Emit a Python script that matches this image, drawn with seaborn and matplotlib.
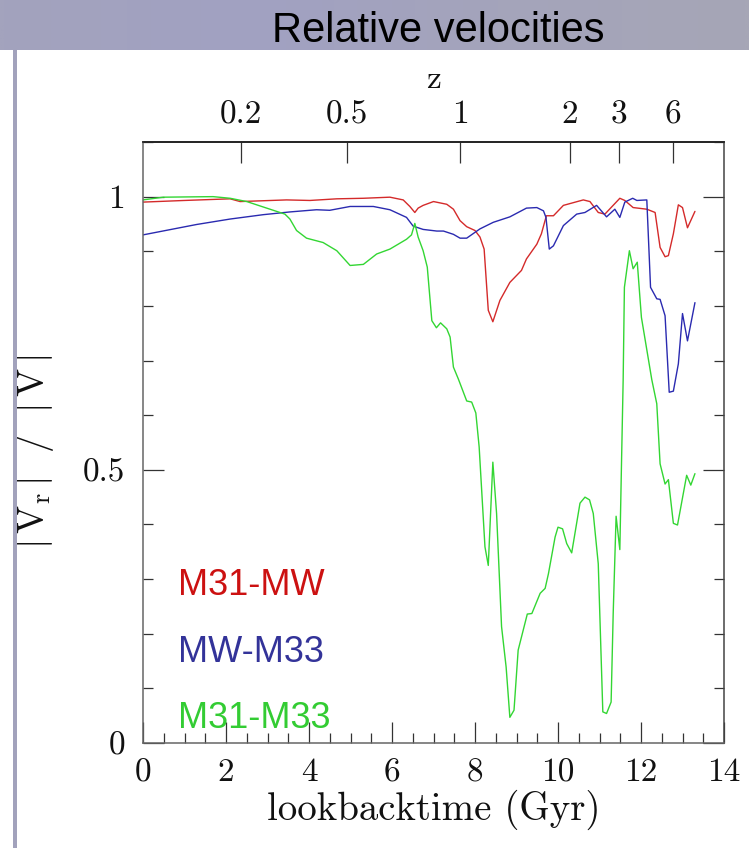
import numpy as np
import pandas as pd
import matplotlib
matplotlib.use("Agg")
import matplotlib.pyplot as plt
from matplotlib.ticker import MultipleLocator, NullLocator
from matplotlib.patches import Rectangle
import seaborn as sns

# ---------------- data ----------------
t_m31_mw = [0.0, 1.0, 2.1, 2.34, 3.46, 4.02, 4.67, 5.31, 5.95, 6.27, 6.43, 6.55, 6.63, 6.75,
            7.0, 7.32, 7.48, 7.64, 7.80, 8.0, 8.12, 8.22, 8.32, 8.43, 8.6, 8.84, 9.12, 9.24,
            9.49, 9.6, 9.72, 9.89, 10.13, 10.61, 10.77, 10.97, 11.13, 11.49, 11.61, 11.81,
            12.14, 12.34, 12.46, 12.58, 12.66, 12.78, 12.9, 13.0, 13.12, 13.3]
v_m31_mw = [0.990, 0.993, 0.996, 0.991, 0.994, 0.993, 0.996, 0.997, 0.999, 0.994, 0.982, 0.971,
            0.979, 0.984, 0.991, 0.986, 0.977, 0.956, 0.945, 0.938, 0.926, 0.904, 0.792, 0.771,
            0.810, 0.843, 0.865, 0.886, 0.913, 0.932, 0.965, 0.965, 0.984, 0.994, 0.991, 0.971,
            0.968, 0.997, 0.993, 0.980, 0.977, 0.971, 0.907, 0.890, 0.892, 0.932, 0.985, 0.980,
            0.943, 0.973]

t_mw_m33 = [0.0, 1.29, 2.1, 2.9, 3.54, 4.18, 4.5, 4.99, 5.55, 5.95, 6.35, 6.51, 6.75, 7.08,
            7.24, 7.48, 7.64, 7.80, 8.12, 8.44, 8.84, 9.24, 9.49, 9.65, 9.71, 9.79, 9.89,
            10.13, 10.45, 10.65, 10.93, 11.17, 11.37, 11.49, 11.61, 11.80, 11.90, 12.14,
            12.23, 12.38, 12.46, 12.58, 12.66, 12.68, 12.78, 12.9, 13.0, 13.12, 13.3]
v_mw_m33 = [0.930, 0.949, 0.959, 0.967, 0.972, 0.976, 0.975, 0.982, 0.982, 0.976, 0.962, 0.946,
            0.940, 0.937, 0.937, 0.931, 0.924, 0.924, 0.941, 0.953, 0.963, 0.979, 0.980, 0.974,
            0.962, 0.904, 0.910, 0.947, 0.968, 0.971, 0.984, 0.963, 0.977, 0.962, 0.990, 0.997,
            0.993, 0.994, 0.834, 0.813, 0.812, 0.782, 0.670, 0.642, 0.644, 0.694, 0.786, 0.736,
            0.806]

t_m31_m33 = [0.0, 0.49, 1.69, 2.1, 2.5, 3.06, 3.42, 3.54, 3.70, 3.94, 4.34, 4.67, 4.99, 5.31,
             5.63, 5.95, 6.35, 6.47, 6.55, 6.63, 6.75, 6.85, 6.96, 7.07, 7.17, 7.32, 7.40,
             7.48, 7.60, 7.80, 7.92, 8.02, 8.10, 8.24, 8.32, 8.43, 8.52, 8.64, 8.75, 8.84,
             8.94, 9.04, 9.26, 9.37, 9.57, 9.69, 9.77, 9.93, 10.00, 10.11, 10.21, 10.33,
             10.53, 10.65, 10.76, 10.85, 10.97, 11.08, 11.17, 11.28, 11.33, 11.40, 11.49,
             11.53, 11.57, 11.60, 11.72, 11.81, 11.91, 12.01, 12.26, 12.38, 12.46, 12.58,
             12.66, 12.78, 12.88, 13.10, 13.20, 13.30]
v_m31_m33 = [0.994, 0.999, 1.000, 0.997, 0.991, 0.977, 0.968, 0.959, 0.938, 0.924, 0.916, 0.901,
             0.874, 0.876, 0.895, 0.904, 0.922, 0.930, 0.951, 0.926, 0.901, 0.871, 0.773, 0.760,
             0.769, 0.758, 0.743, 0.688, 0.666, 0.626, 0.624, 0.604, 0.542, 0.359, 0.325, 0.514,
             0.420, 0.213, 0.139, 0.047, 0.060, 0.170, 0.236, 0.237, 0.274, 0.283, 0.310, 0.377,
             0.395, 0.392, 0.365, 0.348, 0.439, 0.450, 0.445, 0.420, 0.328, 0.057, 0.054, 0.075,
             0.237, 0.415, 0.354, 0.511, 0.664, 0.834, 0.901, 0.868, 0.880, 0.779, 0.665, 0.621,
             0.511, 0.474, 0.482, 0.402, 0.399, 0.490, 0.472, 0.493]

pairs = ["M31-MW", "MW-M33", "M31-M33"]
line_colors = ["#d42a2a", "#2a2ab0", "#33d633"]
text_colors = ["#cc1111", "#333399", "#33cc33"]

x_ticks = [0, 2, 4, 6, 8, 10, 12, 14]
y_ticks = [0, 0.5, 1]
y_ticklabels = ["0", "0.5", "1"]
z_labels = ["0.2", "0.5", "1", "2", "3", "6"]
z_lookback = [2.35, 4.92, 7.64, 10.29, 11.47, 12.77]

# ---------------- frame ----------------
sns.set_theme(style="ticks")
plt.rcParams["font.family"] = ["cmr10", "DejaVu Serif"]
plt.rcParams["mathtext.fontset"] = "cm"
plt.rcParams["axes.formatter.use_mathtext"] = True

W, H = 749, 848
fig = plt.figure(figsize=(W / 100, H / 100), dpi=100, facecolor="white")

# banner
bax = fig.add_axes([0, 1 - 50 / H, 1, 50 / H])
grad = np.linspace(0, 1, 300)[None, :]
bax.imshow(grad, aspect="auto", cmap=matplotlib.colors.LinearSegmentedColormap.from_list(
    "ban", ["#a3a3bd", "#a1a1c2", "#a4a4bb", "#a6a6b6"]), extent=[0, 1, 0, 1])
bax.set_axis_off()
fig.text(438 / W, 1 - 42 / H, "Relative velocities", family="Liberation Sans",
         fontsize=30, color="black", ha="center", va="baseline")
# left bar
fig.patches.append(Rectangle((13 / W, 0), 4 / W, 1 - 50 / H, transform=fig.transFigure,
                             facecolor="#a2a2bc", edgecolor="none"))

ax = fig.add_axes([143 / W, 1 - 743 / H, (724 - 143) / W, (743 - 142) / H])
ax.set_facecolor("white")

frames = []
for name, t, v in [(pairs[0], t_m31_mw, v_m31_mw), (pairs[1], t_mw_m33, v_mw_m33),
                   (pairs[2], t_m31_m33, v_m31_m33)]:
    frames.append(pd.DataFrame({"t": t, "v": v, "pair": name}))
df = pd.concat(frames, ignore_index=True)

sns.lineplot(data=df, x="t", y="v", hue="pair", hue_order=pairs,
             palette=dict(zip(pairs, line_colors)), estimator=None, sort=False,
             linewidth=1.0, legend=False, ax=ax)

ax.set_xlim(0, 14)
ax.set_ylim(0, 1.1)
ax.set_xticks(x_ticks)
ax.set_xticklabels([str(v) for v in x_ticks])
ax.set_yticks(y_ticks)
ax.set_yticklabels(y_ticklabels)
ax.xaxis.set_minor_locator(MultipleLocator(0.5))
ax.yaxis.set_minor_locator(MultipleLocator(0.1))
ax.tick_params(axis="both", which="both", direction="in", top=False, right=True,
               color="#333333", labelsize=24, labelcolor="#111111", pad=11)
ax.tick_params(axis="y", pad=13)
ax.tick_params(which="major", length=15, width=0.9)
ax.tick_params(which="minor", length=7.5, width=0.9)
for side, col in [("left", "#666666"), ("bottom", "#666666"), ("top", "#222222"), ("right", "#444444")]:
    ax.spines[side].set_color(col)
    ax.spines[side].set_linewidth(1.1)

ax.set_xlabel("lookbacktime (Gyr)", fontsize=28, color="#111111", labelpad=2)
ax.set_ylabel(r"$|\,\mathrm{V}_{\mathrm{r}}\,|\ \ /\ \ |\,\mathrm{V}\,|$", fontsize=27,
              color="#111111")
ax.yaxis.set_label_coords(-0.15, 0.485)

secax = ax.secondary_xaxis("top")
secax.set_xticks(z_lookback)
secax.set_xticklabels(z_labels)
secax.xaxis.set_minor_locator(NullLocator())
secax.tick_params(direction="in", length=15, width=0.9, color="#333333", labelsize=24,
                  labelcolor="#111111", pad=9)
secax.spines["top"].set_color("#222222")
secax.set_xlabel("z", fontsize=24, color="#111111", labelpad=9)

# series names written in the plot
for name, col, yb in zip(pairs, text_colors, [0.271, 0.148, 0.027]):
    ax.text(0.84, yb, name, color=col, fontsize=26, family="Liberation Sans",
            ha="left", va="baseline")

fig.savefig("out.png", dpi=100, facecolor="white")
